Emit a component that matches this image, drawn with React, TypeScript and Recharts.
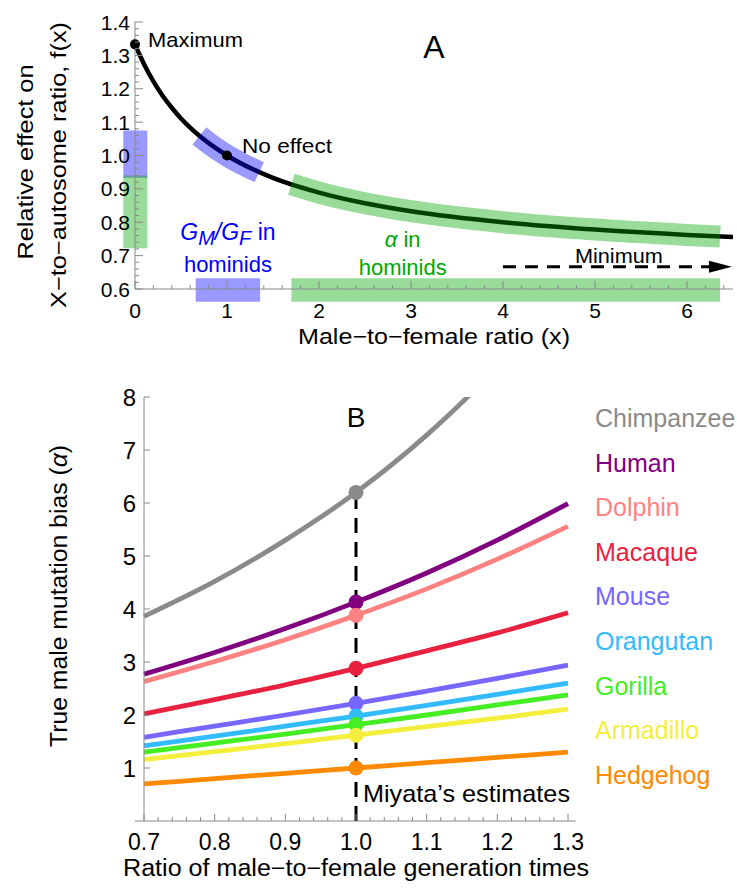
import React from 'react';
import {
  ComposedChart,
  Line,
  XAxis,
  YAxis,
  ReferenceArea,
  ReferenceDot,
  ReferenceLine,
  Legend,
} from 'recharts';

const FONT = '"Liberation Sans", Arial, Helvetica, sans-serif';
const AXIS = '#888';

// ---------- panel A: relative effect on X-to-autosome ratio ----------
const curveX = [0, 0.05, 0.1, 0.2, 0.3, 0.4, 0.5, 0.7, 1, 1.5, 2, 2.5, 3, 4, 5, 6, 6.5];
const curveF = [1.333, 1.302, 1.273, 1.222, 1.179, 1.143, 1.111, 1.059, 1.0, 0.933, 0.889, 0.857, 0.833, 0.8, 0.778, 0.762, 0.756];

// G_M/G_F range in hominids (blue), alpha range in hominids (green)
const gmCurveX = [0.7, 0.85, 1.0, 1.15, 1.35];
const gmCurveF = [1.059, 1.027, 1.0, 0.977, 0.95];
const alphaCurveX = [1.7, 2, 2.5, 3, 4, 5, 6, 6.36];
const alphaCurveF = [0.914, 0.889, 0.857, 0.833, 0.8, 0.778, 0.762, 0.757];
const gmRangeX = [0.66, 1.36];
const gmRangeF = [0.933, 1.075];
const alphaRangeX = [1.7, 6.36];
const alphaRangeF = [0.722, 0.94];

const maximumPoint = { x: 0, y: 1.333 };
const noEffectPoint = { x: 1, y: 1 };
const minimumX = [4, 6.26];
const minimumF = 0.667;

const xMajorA = [0, 1, 2, 3, 4, 5, 6];
const yMajorA = [0.6, 0.7, 0.8, 0.9, 1.0, 1.1, 1.2, 1.3, 1.4];

// ---------- panel B: true male mutation bias ----------
const ratioX = [0.7, 0.8, 0.9, 1.0, 1.1, 1.2, 1.3];
const chimpanzee = [3.86, 4.52, 5.3, 6.2, 7.28, 8.58, 10.19];
const human = [2.77, 3.18, 3.63, 4.13, 4.68, 5.3, 5.99];
const dolphin = [2.63, 3.01, 3.42, 3.88, 4.38, 4.94, 5.56];
const macaque = [2.02, 2.29, 2.57, 2.88, 3.21, 3.55, 3.93];
const mouse = [1.58, 1.79, 2.0, 2.22, 2.45, 2.69, 2.94];
const orangutan = [1.42, 1.6, 1.79, 1.98, 2.18, 2.39, 2.6];
const gorilla = [1.3, 1.47, 1.64, 1.82, 2.0, 2.19, 2.38];
const armadillo = [1.16, 1.31, 1.46, 1.62, 1.78, 1.94, 2.11];
const hedgehog = [0.7, 0.8, 0.9, 1.0, 1.1, 1.2, 1.3];

const speciesNames = ['Chimpanzee', 'Human', 'Dolphin', 'Macaque', 'Mouse', 'Orangutan', 'Gorilla', 'Armadillo', 'Hedgehog'];
const speciesValues = [chimpanzee, human, dolphin, macaque, mouse, orangutan, gorilla, armadillo, hedgehog];
const speciesColors = ['#8a8a8a', '#800080', '#ff8282', '#e8213e', '#7766ff', '#33bbff', '#44ee22', '#f4ef3c', '#ff8a00'];

const miyataX = 1.0;
const xMajorB = [0.7, 0.8, 0.9, 1.0, 1.1, 1.2, 1.3];
const yMajorB = [1, 2, 3, 4, 5, 6, 7, 8];

// ---------- helpers ----------
const withMinor = (major: number[], parts: number, extra = 0) => {
  const out: number[] = [];
  const step = (major[1] - major[0]) / parts;
  const last = major[major.length - 1] + extra * step;
  for (let i = 0; major[0] + i * step <= last + 1e-9; i++) {
    out.push(Math.round((major[0] + i * step) * 1000) / 1000);
  }
  return out;
};
const isIn = (v: number, list: number[]) => list.some((m) => Math.abs(m - v) < 1e-6);

const curveData = curveX.map((x, i) => ({ x, y: curveF[i] }));
const gmCurve = gmCurveX.map((x, i) => ({ x, y: gmCurveF[i] }));
const alphaCurve = alphaCurveX.map((x, i) => ({ x, y: alphaCurveF[i] }));
const minimumArrow = minimumX.map((x) => ({ x, y: minimumF }));

const speciesRows = ratioX.map((x, i) => {
  const row: Record<string, number> = { x };
  speciesNames.forEach((n, k) => (row[n] = speciesValues[k][i]));
  return row;
});
const miyataIndex = ratioX.indexOf(miyataX);

const txt = { fontFamily: FONT, fill: '#000' } as const;
const wide = (len: number) => ({ textLength: len, lengthAdjust: 'spacingAndGlyphs' as const });

const XTickA = (p: any) => {
  const v = p.payload.value;
  const major = isIn(v, xMajorA);
  return (
    <g>
      <line x1={p.x} x2={p.x} y1={p.y} y2={p.y - (major ? 8 : 4)} stroke={AXIS} />
      {major && (
        <text x={p.x} y={p.y + 29} textAnchor="middle" fontSize={21} {...txt}>
          {v}
        </text>
      )}
    </g>
  );
};

const YTickA = (p: any) => {
  const v = p.payload.value;
  const major = isIn(v, yMajorA);
  return (
    <g>
      <line x1={p.x} x2={p.x + (major ? 8 : 4)} y1={p.y} y2={p.y} stroke={AXIS} />
      {major && (
        <text x={p.x - 5} y={p.y + 7.5} textAnchor="end" fontSize={21} {...txt}>
          {v.toFixed(1)}
        </text>
      )}
    </g>
  );
};

const XTickB = (p: any) => {
  const v = p.payload.value;
  const major = isIn(v, xMajorB);
  return (
    <g>
      <line x1={p.x} x2={p.x} y1={p.y} y2={p.y - (major ? 7 : 4)} stroke={AXIS} />
      {major && (
        <text x={p.x} y={p.y + 29} textAnchor="middle" fontSize={23} {...txt}>
          {v.toFixed(1)}
        </text>
      )}
    </g>
  );
};

const YTickB = (p: any) => (
  <g>
    <line x1={p.x} x2={p.x + 6} y1={p.y} y2={p.y} stroke={AXIS} />
    <text x={p.x - 8} y={p.y + 8.5} textAnchor="end" fontSize={24} {...txt}>
      {p.payload.value}
    </text>
  </g>
);

// label placed relative to a reference dot centre
const near = (draw: (cx: number, cy: number) => React.ReactElement) => (props: any) => {
  const vb = props.viewBox || { x: 0, y: 0, width: 0, height: 0 };
  return draw(vb.x + (vb.width || 0) / 2, vb.y + (vb.height || 0) / 2);
};

const SpeciesLegend = () => (
  <div style={{ fontFamily: FONT, fontSize: 25, lineHeight: '44.6px', whiteSpace: 'nowrap' }}>
    {speciesNames.map((n, i) => (
      <div key={n} style={{ color: speciesColors[i] }}>
        {n}
      </div>
    ))}
  </div>
);

export default function App() {
  return (
    <div style={{ position: 'absolute', left: 0, top: 0, width: 737, height: 888, background: '#fff' }}>
      <ComposedChart width={737} height={350} margin={{ top: 22, right: 4, bottom: 21, left: 75 }}>
        <XAxis
          type="number"
          dataKey="x"
          domain={[0, 6.5]}
          ticks={withMinor(xMajorA, 5, 2)}
          interval={0}
          tickSize={0}
          tickMargin={0}
          tickLine={false}
          tick={XTickA}
          axisLine={{ stroke: AXIS }}
          height={40}
          label={{
            content: near((cx, cy) => (
              <text x={cx} y={cy + 34.5} textAnchor="middle" fontSize={21.5} {...wide(272)} {...txt}>
                Male−to−female ratio (x)
              </text>
            )),
          }}
        />
        <YAxis
          type="number"
          dataKey="y"
          domain={[0.6, 1.4]}
          ticks={withMinor(yMajorA, 5)}
          interval={0}
          tickSize={0}
          tickMargin={0}
          tickLine={false}
          tick={YTickA}
          axisLine={{ stroke: AXIS }}
          width={60}
          label={{
            content: (props: any) => {
              const vb = props.viewBox;
              const cy1 = vb.y + 140;
              const cy2 = vb.y + 143;
              const b1 = vb.x - 50 + 8;
              const b2 = vb.x - 17 + 8;
              return (
                <g>
                  <text x={b1} y={cy1} transform={`rotate(-90 ${b1} ${cy1})`} textAnchor="middle" fontSize={21.5} {...wide(195)} {...txt}>
                    Relative effect on
                  </text>
                  <text x={b2} y={cy2} transform={`rotate(-90 ${b2} ${cy2})`} textAnchor="middle" fontSize={21.5} {...wide(286)} {...txt}>
                    X−to−autosome ratio, f(x)
                  </text>
                </g>
              );
            },
          }}
        />

        <ReferenceArea x1={-0.127} x2={0.134} y1={gmRangeF[0]} y2={gmRangeF[1]} fill="#0000ff" fillOpacity={0.4} stroke="none" ifOverflow="visible" />
        <ReferenceArea x1={-0.127} x2={0.134} y1={alphaRangeF[0]} y2={alphaRangeF[1]} fill="#00a800" fillOpacity={0.4} stroke="none" ifOverflow="visible" />
        <ReferenceArea x1={gmRangeX[0]} x2={gmRangeX[1]} y1={0.562} y2={0.632} fill="#0000ff" fillOpacity={0.4} stroke="none" ifOverflow="visible" />
        <ReferenceArea x1={alphaRangeX[0]} x2={alphaRangeX[1]} y1={0.562} y2={0.632} fill="#00a800" fillOpacity={0.4} stroke="none" ifOverflow="visible" />

        <Line data={curveData} dataKey="y" type="monotone" stroke="#000" strokeWidth={4.5} dot={false} activeDot={false} isAnimationActive={false} />
        <Line data={gmCurve} dataKey="y" type="monotone" stroke="#0000ff" strokeOpacity={0.4} strokeWidth={22} strokeLinecap="butt" dot={false} activeDot={false} isAnimationActive={false} />
        <Line data={alphaCurve} dataKey="y" type="monotone" stroke="#00a800" strokeOpacity={0.4} strokeWidth={22} strokeLinecap="butt" dot={false} activeDot={false} isAnimationActive={false} />
        <Line
          data={minimumArrow}
          dataKey="y"
          type="linear"
          stroke="#000"
          strokeWidth={3}
          strokeDasharray="13 9"
          activeDot={false}
          isAnimationActive={false}
          dot={(p: any) =>
            p.index === minimumArrow.length - 1 ? (
              <polygon key={p.index} points={`${p.cx - 2},${p.cy - 6} ${p.cx + 21},${p.cy} ${p.cx - 2},${p.cy + 6}`} fill="#000" />
            ) : (
              <g key={p.index} />
            )
          }
        />

        <ReferenceDot
          x={maximumPoint.x}
          y={maximumPoint.y}
          r={5}
          fill="#000"
          stroke="none"
          label={{ content: near((cx, cy) => <text x={cx + 13} y={cy + 3} fontSize={21} {...wide(95)} {...txt}>Maximum</text>) }}
        />
        <ReferenceDot
          x={noEffectPoint.x}
          y={noEffectPoint.y}
          r={5}
          fill="#000"
          stroke="none"
          label={{ content: near((cx, cy) => <text x={cx + 15} y={cy - 3} fontSize={21} {...wide(90)} {...txt}>No effect</text>) }}
        />
        <ReferenceDot
          x={3.25}
          y={1.327}
          r={0}
          fill="none"
          stroke="none"
          label={{ content: near((cx, cy) => <text x={cx} y={cy + 11.5} textAnchor="middle" fontSize={32} {...txt}>A</text>) }}
        />
        <ReferenceDot
          x={1.01}
          y={0.768}
          r={0}
          fill="none"
          stroke="none"
          label={{
            content: near((cx, cy) => (
              <g fontFamily={FONT} fill="#0000ff">
                <text x={cx} y={cy + 7.5} textAnchor="middle" fontSize={23}>
                  <tspan fontStyle="italic">G</tspan>
                  <tspan fontStyle="italic" fontSize={20} dy={5}>M</tspan>
                  <tspan fontStyle="italic" dy={-5}>/G</tspan>
                  <tspan fontStyle="italic" fontSize={20} dy={5}>F</tspan>
                  <tspan dy={-5}> in</tspan>
                </text>
                <text x={cx} y={cy + 39.5} textAnchor="middle" fontSize={22}>hominids</text>
              </g>
            )),
          }}
        />
        <ReferenceDot
          x={2.91}
          y={0.747}
          r={0}
          fill="none"
          stroke="none"
          label={{
            content: near((cx, cy) => (
              <g fontFamily={FONT} fill="#00a800">
                <text x={cx} y={cy + 7.5} textAnchor="middle" fontSize={22}>
                  <tspan fontStyle="italic">α</tspan> in
                </text>
                <text x={cx} y={cy + 35.5} textAnchor="middle" fontSize={22}>hominids</text>
              </g>
            )),
          }}
        />
        <ReferenceDot
          x={5.26}
          y={0.699}
          r={0}
          fill="none"
          stroke="none"
          label={{ content: near((cx, cy) => <text x={cx} y={cy + 7.5} textAnchor="middle" fontSize={21} {...wide(88)} {...txt}>Minimum</text>) }}
        />
      </ComposedChart>

      <ComposedChart width={737} height={538} data={speciesRows} margin={{ top: 47, right: 169, bottom: 27, left: 84 }}>
        <XAxis
          type="number"
          dataKey="x"
          domain={[0.7, 1.3]}
          ticks={withMinor(xMajorB, 5)}
          interval={0}
          tickSize={0}
          tickMargin={0}
          tickLine={false}
          tick={XTickB}
          axisLine={false}
          height={40}
          label={{
            content: near((cx, cy) => (
              <text x={cx} y={cy + 35} textAnchor="middle" fontSize={23} {...wide(466)} {...txt}>
                Ratio of male−to−female generation times
              </text>
            )),
          }}
        />
        <YAxis
          type="number"
          domain={[0, 8]}
          allowDataOverflow
          ticks={yMajorB}
          interval={0}
          tickSize={0}
          tickMargin={0}
          tickLine={false}
          tick={YTickB}
          axisLine={{ stroke: AXIS }}
          width={60}
          label={{
            content: (props: any) => {
              const vb = props.viewBox;
              const cy = vb.y + 199;
              const bx = vb.x - 26 + 8.5;
              return (
                <text x={bx} y={cy} transform={`rotate(-90 ${bx} ${cy})`} textAnchor="middle" fontSize={23.5} {...wide(302)} {...txt}>
                  True male mutation bias (<tspan fontStyle="italic">α</tspan>)
                </text>
              );
            },
          }}
        />
        <Legend layout="vertical" align="center" verticalAlign="middle" content={SpeciesLegend} wrapperStyle={{ left: 595, top: 46, width: 142 }} />

        <ReferenceLine segment={[{ x: 0.687, y: 0 }, { x: 1.311, y: 0 }]} stroke={AXIS} ifOverflow="visible" />

        {speciesNames.map((n, i) => (
          <Line
            key={n}
            dataKey={n}
            type="monotone"
            stroke={speciesColors[i]}
            strokeWidth={4.8}
            dot={false}
            activeDot={false}
            isAnimationActive={false}
          />
        ))}

        <ReferenceLine
          segment={[{ x: miyataX, y: 0 }, { x: miyataX, y: chimpanzee[miyataIndex] }]}
          stroke="#000"
          strokeWidth={3}
          strokeDasharray="15 9"
          ifOverflow="visible"
        />
        {speciesNames.map((n, i) => (
          <ReferenceDot key={n} x={miyataX} y={speciesValues[i][miyataIndex]} r={7.5} fill={speciesColors[i]} stroke="none" />
        ))}
        <ReferenceDot
          x={miyataX}
          y={7.62}
          r={0}
          fill="none"
          stroke="none"
          label={{ content: near((cx, cy) => <text x={cx} y={cy + 10} textAnchor="middle" fontSize={28} {...txt}>B</text>) }}
        />
        <ReferenceDot
          x={miyataX}
          y={0.51}
          r={0}
          fill="none"
          stroke="none"
          label={{ content: near((cx, cy) => <text x={cx + 7} y={cy + 8.5} fontSize={24} {...wide(207)} {...txt}>Miyata’s estimates</text>) }}
        />
      </ComposedChart>
    </div>
  );
}
